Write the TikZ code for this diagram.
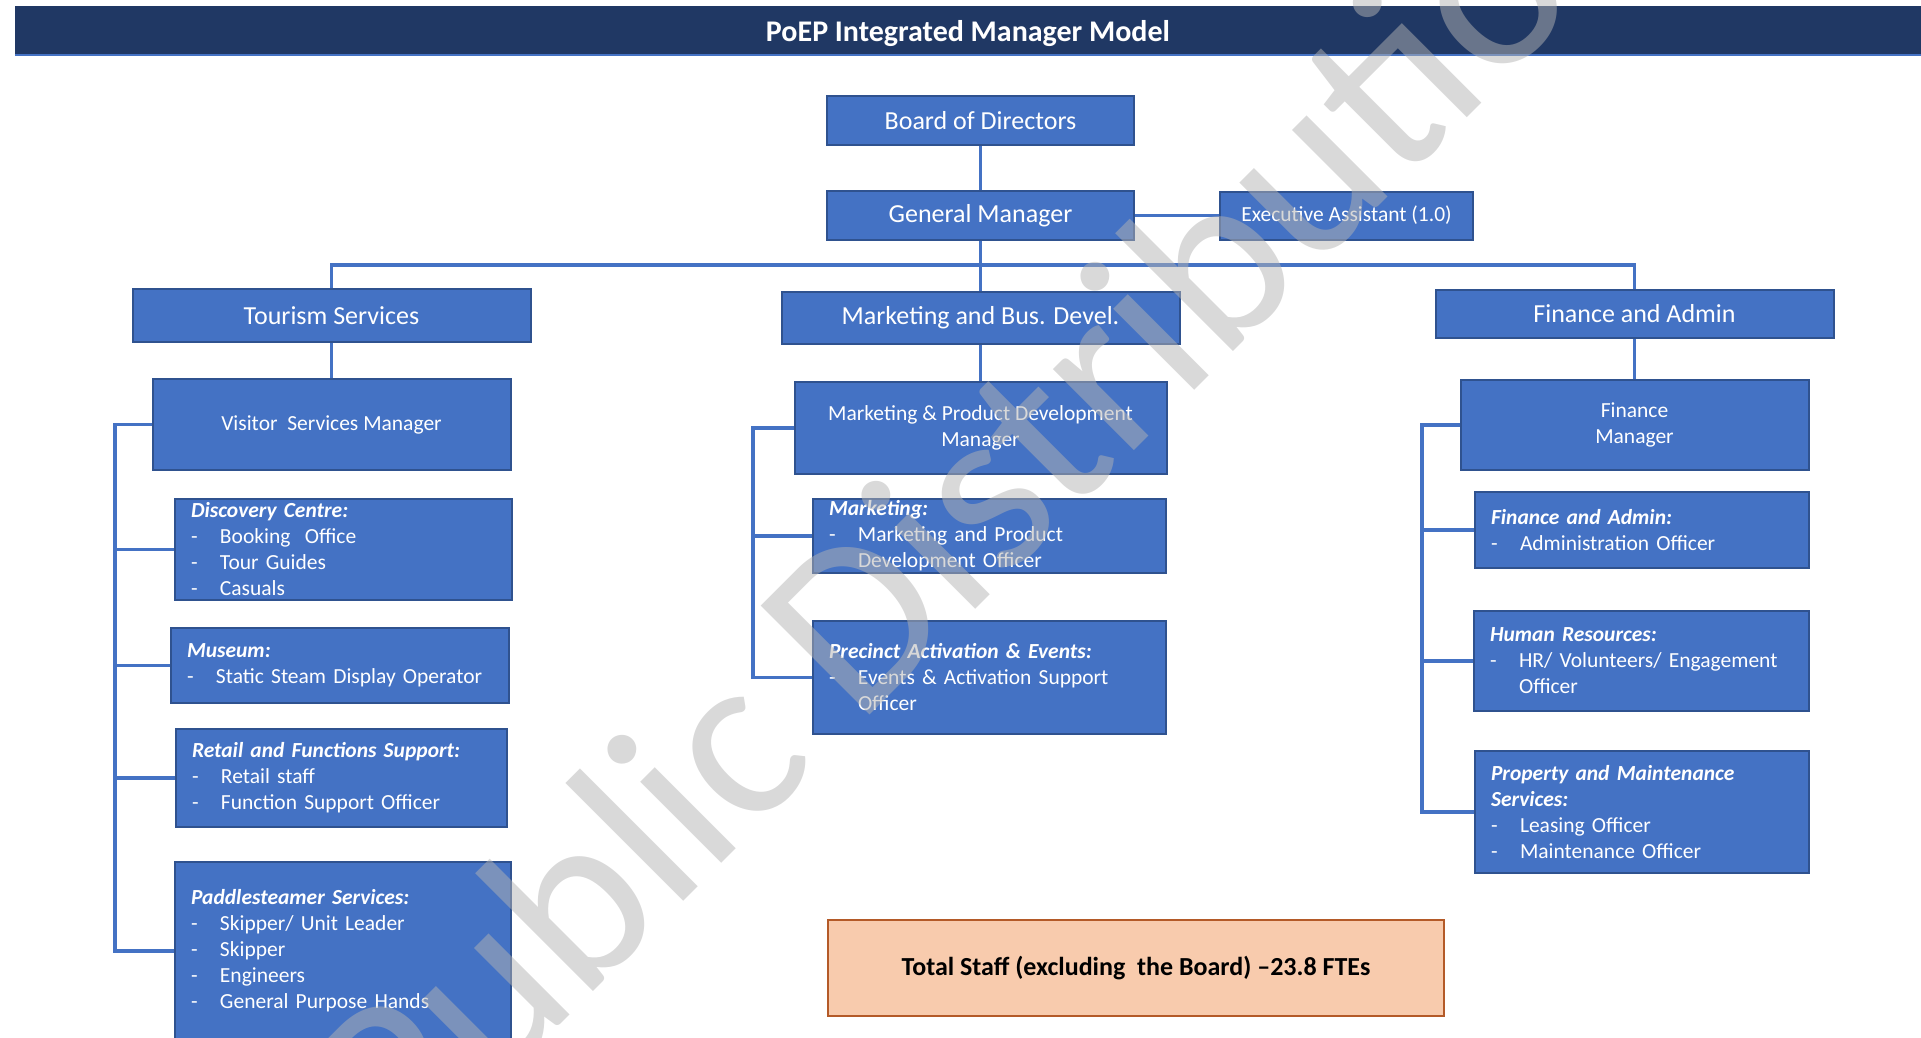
\documentclass[tikz,border=0pt]{standalone}
\usepackage{fontspec}
\setmainfont{Carlito}
\definecolor{boxc}{RGB}{68,114,196}
\definecolor{bordc}{RGB}{47,82,143}
\definecolor{linec}{RGB}{68,114,196}
\definecolor{navyc}{RGB}{32,56,100}
\definecolor{peachc}{RGB}{248,203,173}
\definecolor{brownc}{RGB}{180,90,40}
\definecolor{wmc}{RGB}{179,179,179}
\newcommand{\Itm}[1]{\makebox[29pt][l]{-}#1}
\newcommand{\Cnt}{\hspace*{29pt}}
\newcommand{\Hd}[1]{\textbf{\textit{#1}}}
\tikzset{
  hdr/.style={draw=bordc, line width=2pt, fill=boxc, text=white, inner sep=0pt, align=center,
    font=\fontsize{26}{31}\selectfont},
  mgr/.style={draw=bordc, line width=2pt, fill=boxc, text=white, inner sep=0pt, align=center,
    font=\fontsize{21.5}{26}\selectfont},
  sub/.style={draw=bordc, line width=2pt, fill=boxc, text=white, inner xsep=16pt, inner ysep=0pt,
    align=left, anchor=west, font=\fontsize{21.5}{26}\selectfont},
  link/.style={draw=linec, line width=3.2pt},
}
\begin{document}
\begin{tikzpicture}[x=1pt,y=-1pt]
\useasboundingbox (0,0) rectangle (1921,1038);
\clip (0,0) rectangle (1921,1038);
% title bar
\node[fill=navyc, text=white, inner sep=0pt, minimum width=1906pt, minimum height=49pt, text depth=0pt,
  font=\fontsize{30}{36}\selectfont\bfseries] (title) at (968,30.5) {PoEP Integrated Manager Model};
\draw[boxc, line width=2.5pt] (title.south west) -- (title.south east);
% top
\node[hdr, minimum width=307pt, minimum height=49pt] (board) at (980.5,120.5) {Board of Directors};
\node[hdr, minimum width=307pt, minimum height=49pt] (gm) at (980.5,215.5) {General Manager};
\node[mgr, minimum width=253pt, minimum height=48pt] (ea) at (1346.5,215.5) {Executive Assistant (1.0)};
% departments
\node[hdr, minimum width=398pt, minimum height=53pt] (tour) at (331.5,315.5) {Tourism Services};
\node[hdr, minimum width=398pt, minimum height=52pt] (mbd) at (980.5,318) {Marketing and Bus. Devel.};
\node[hdr, minimum width=398pt, minimum height=48pt] (fin) at (1634.5,314) {Finance and Admin};
% managers
\node[mgr, minimum width=358pt, minimum height=91pt] (vsm) at (331.5,424.5) {Visitor\ \ Services Manager};
\node[mgr, minimum width=372pt, minimum height=92pt] (mpdm) at (980.5,428) {Marketing \& Product Development\\Manager};
\node[mgr, minimum width=348pt, minimum height=90pt] (fm) at (1634.5,425) {Finance\\Manager};
% tourism subs
\node[sub, text width=305pt, minimum height=101pt] (dc) at (174,549.5)
  {\Hd{Discovery Centre:}\\\Itm{Booking\ \ Office}\\\Itm{Tour Guides}\\\Itm{Casuals}};
\node[sub, text width=306pt, minimum height=75pt] (mus) at (170,665.5)
  {\Hd{Museum:}\\\Itm{Static Steam Display Operator}};
\node[sub, text width=299pt, minimum height=98pt] (ret) at (175,778)
  {\Hd{Retail and Functions Support:}\\\Itm{Retail staff}\\\Itm{Function Support Officer}};
\node[sub, text width=304pt, minimum height=178pt] (pad) at (174,951)
  {\Hd{Paddlesteamer Services:}\\\Itm{Skipper/ Unit Leader}\\\Itm{Skipper}\\\Itm{Engineers}\\\Itm{General Purpose Hands}};
% marketing subs
\node[sub, text width=321pt, minimum height=74pt] (mkt) at (812,536)
  {\Hd{Marketing:}\\\Itm{Marketing and Product}\\\Cnt Development Officer};
\node[sub, text width=321pt, minimum height=113pt] (pre) at (812,677.5)
  {\Hd{Precinct Activation \& Events:}\\\Itm{Events \& Activation Support}\\\Cnt Officer};
% finance subs
\node[sub, text width=302pt, minimum height=76pt] (fa) at (1474,530)
  {\Hd{Finance and Admin:}\\\Itm{Administration Officer}};
\node[sub, text width=303pt, minimum height=100pt] (hr) at (1473,661)
  {\Hd{Human Resources:}\\\Itm{HR/ Volunteers/ Engagement}\\\Cnt Officer};
\node[sub, text width=302pt, minimum height=122pt] (prop) at (1474,812)
  {\Hd{Property and Maintenance}\\\Hd{Services:}\\\Itm{Leasing Officer}\\\Itm{Maintenance Officer}};
% total
\node[draw=brownc, line width=2pt, fill=peachc, minimum width=616pt, minimum height=96pt, inner sep=0pt,
  font=\fontsize{26}{31}\selectfont\bfseries] (total) at (1136,968) {Total Staff (excluding\ \ the Board) --23.8 FTEs};
% connectors
\coordinate (bus) at (980.5,265);
\coordinate (lsp) at (115,424.5);
\coordinate (msp) at (753,428);
\coordinate (fsp) at (1422,425);
\draw[link] (board.south) -- (gm.north);
\draw[link] (gm.east) -- (ea.west);
\draw[link] (gm.south) -- (bus);
\draw[link] (tour.north) |- (bus) -| (fin.north);
\draw[link] (bus) -- (mbd.north);
\draw[link] (tour.south) -- (vsm.north);
\draw[link] (mbd.south) -- (mpdm.north);
\draw[link] (fin.south) -- (fm.north);
\draw[link] (vsm.west) -- (lsp) |- (dc.west);
\draw[link] (lsp) |- (mus.west);
\draw[link] (lsp) |- (ret.west);
\draw[link] (lsp) |- (pad.west);
\draw[link] (mpdm.west) -- (msp) |- (mkt.west);
\draw[link] (msp) |- (pre.west);
\draw[link] (fm.west) -- (fsp) |- (fa.west);
\draw[link] (fsp) |- (hr.west);
\draw[link] (fsp) |- (prop.west);
% watermark
\node[anchor=base west, rotate=45, inner sep=0pt, text=wmc, text opacity=0.5,
  font=\fontsize{240}{288}\selectfont] (wm) at (405,1180) {Public Distribution};
\end{tikzpicture}
\end{document}
